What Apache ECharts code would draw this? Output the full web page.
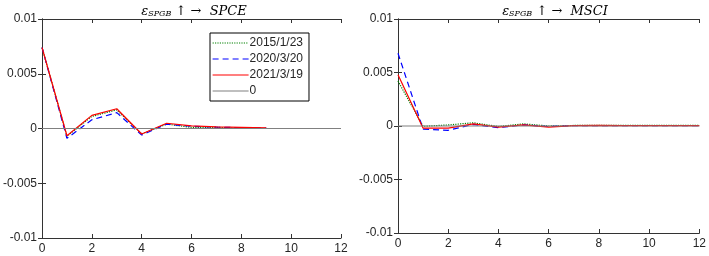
<!DOCTYPE html>
<html>
<head>
<meta charset="utf-8">
<script src="https://cdn.jsdelivr.net/npm/echarts@6/dist/echarts.min.js"></script>
<style>
  html, body { margin: 0; padding: 0; background: #fff; }
  #chart { width: 709px; height: 256px; }
</style>
</head>
<body>
<div id="chart"></div>
<script>
// periods of the impulse response
var stepsLeft = [0, 1, 2, 3, 4, 5, 6, 7, 8, 9];
var stepsRight = [0, 1, 2, 3, 4, 5, 6, 7, 8, 9, 10, 11, 12];

// SPGB shock -> SPCE
var spce2015 = [0.0074, -0.0007, 0.0011, 0.0017, -0.0005, 0.0004, 0.0001, 0.0001, 0.00005, 0.0];
var spce2020 = [0.0074, -0.0009, 0.0008, 0.00145, -0.0006, 0.0004, 0.0002, 0.00012, 0.00008, 0.00004];
var spce2021 = [0.0074, -0.00066, 0.0012, 0.0018, -0.0005, 0.00048, 0.00024, 0.00015, 0.0001, 0.00005];

// SPGB shock -> MSCI
var msci2015 = [0.0042, -0.00003, 0.0001, 0.0003, -0.00005, 0.0002, 0.0, 0.00005, 0.00005, 0.00005, 0.00005, 0.00005, 0.00005];
var msci2020 = [0.0068, -0.0003, -0.0004, 0.00015, -0.00015, 0.0001, -0.00005, 0.00003, 0.00004, 0.00003, 0.00003, 0.00003, 0.00003];
var msci2021 = [0.0048, -0.0002, -0.0002, 0.0002, -0.0001, 0.0001, -0.0001, 0.00003, 0.00005, 0.00004, 0.00003, 0.00003, 0.00003];

var zeroX = [0, 12];
var zeroY = [0, 0];

var legendNames = ['2015/1/23', '2020/3/20', '2021/3/19', '0'];
var xTicks = { min: 0, max: 12, interval: 2 };
var yTicks = { min: -0.01, max: 0.01, interval: 0.005 };

function pairs(xs, ys) {
    return xs.map(function (x, i) { return [x, ys[i]]; });
}

var axisColor = '#333';
var labelColor = '#262626';

function xAxes(gi) {
    return [{
        type: 'value', gridIndex: gi, min: xTicks.min, max: xTicks.max, interval: xTicks.interval,
        axisLine: { onZero: false, lineStyle: { color: axisColor, width: 1 } },
        axisTick: { inside: true, length: 4, lineStyle: { color: axisColor } },
        axisLabel: { color: labelColor, fontSize: 12, fontFamily: 'Liberation Sans', margin: 5 },
        splitLine: { show: false }
    }, {
        type: 'value', gridIndex: gi, position: 'top', min: xTicks.min, max: xTicks.max, interval: xTicks.interval,
        axisLine: { onZero: false, lineStyle: { color: axisColor, width: 1 } },
        axisTick: { inside: true, length: 4, lineStyle: { color: axisColor } },
        axisLabel: { show: false },
        splitLine: { show: false }
    }];
}

function yAxes(gi) {
    return [{
        type: 'value', gridIndex: gi, min: yTicks.min, max: yTicks.max, interval: yTicks.interval,
        axisLine: { show: true, lineStyle: { color: axisColor, width: 1 } },
        axisTick: { show: true, inside: true, length: 4, lineStyle: { color: axisColor } },
        axisLabel: {
            color: labelColor, fontSize: 12, fontFamily: 'Liberation Sans', margin: 5,
            formatter: function (v) { return String(Math.round(v * 1000) / 1000); }
        },
        splitLine: { show: false }
    }, {
        type: 'value', gridIndex: gi, position: 'right', min: yTicks.min, max: yTicks.max, interval: yTicks.interval,
        axisLine: { show: true, lineStyle: { color: axisColor, width: 1 } },
        axisTick: { show: true, inside: true, length: 4, lineStyle: { color: axisColor } },
        axisLabel: { show: false },
        splitLine: { show: false }
    }];
}

function line(name, gi, xs, ys, color, type) {
    return {
        name: name, type: 'line', xAxisIndex: gi * 2, yAxisIndex: gi * 2,
        data: pairs(xs, ys), symbol: 'none', silent: true, animation: false,
        lineStyle: { color: color, width: 1.2, type: type },
        itemStyle: { color: color }
    };
}

function titleRich(target, x) {
    return {
        text: '{e|ε}{s|SPGB}{t| ↑ →  ' + target + '}',
        left: x, top: 0, textAlign: 'center',
        textStyle: {
            fontWeight: 'normal',
            rich: {
                e: { fontFamily: 'DejaVu Serif', fontStyle: 'italic', fontWeight: 'normal', fontSize: 13, color: '#000' },
                s: { fontFamily: 'DejaVu Serif', fontStyle: 'italic', fontWeight: 'normal', fontSize: 8, color: '#000', verticalAlign: 'bottom', padding: [5, 0, 0, 0] },
                t: { fontFamily: 'DejaVu Serif', fontStyle: 'italic', fontWeight: 'normal', fontSize: 13, color: '#000' }
            }
        }
    };
}

var chart = echarts.init(document.getElementById('chart'), null, { renderer: 'canvas' });
chart.setOption({
    animation: false,
    backgroundColor: '#fff',
    title: [titleRich('SPCE', 189), titleRich('MSCI', 550)],
    grid: [
        { left: 38, top: 19, width: 303, height: 219 },
        { left: 398, top: 19, width: 303, height: 214 }
    ],
    legend: {
        data: legendNames,
        orient: 'vertical',
        left: 210, top: 33,
        itemWidth: 36, itemHeight: 10, itemGap: 4,
        padding: [4, 6, 4, 2],
        borderColor: '#000', borderWidth: 1, backgroundColor: '#fff',
        itemStyle: { opacity: 0 },
        lineStyle: { width: 1.2 },
        textStyle: { color: '#262626', fontSize: 12, fontFamily: 'Liberation Sans', padding: [0, 0, 0, -4] },
        selectedMode: false
    },
    xAxis: xAxes(0).concat(xAxes(1)),
    yAxis: yAxes(0).concat(yAxes(1)),
    series: [
        line('2015/1/23', 0, stepsLeft, spce2015, '#008000', 'dotted'),
        line('2020/3/20', 0, stepsLeft, spce2020, '#0000ff', [6, 4]),
        line('2021/3/19', 0, stepsLeft, spce2021, '#ff0000', 'solid'),
        line('0', 0, zeroX, zeroY, '#808080', 'solid'),
        line('2015/1/23', 1, stepsRight, msci2015, '#008000', 'dotted'),
        line('2020/3/20', 1, stepsRight, msci2020, '#0000ff', [6, 4]),
        line('2021/3/19', 1, stepsRight, msci2021, '#ff0000', 'solid'),
        line('0', 1, zeroX, zeroY, '#808080', 'solid')
    ]
});
</script>
</body>
</html>
